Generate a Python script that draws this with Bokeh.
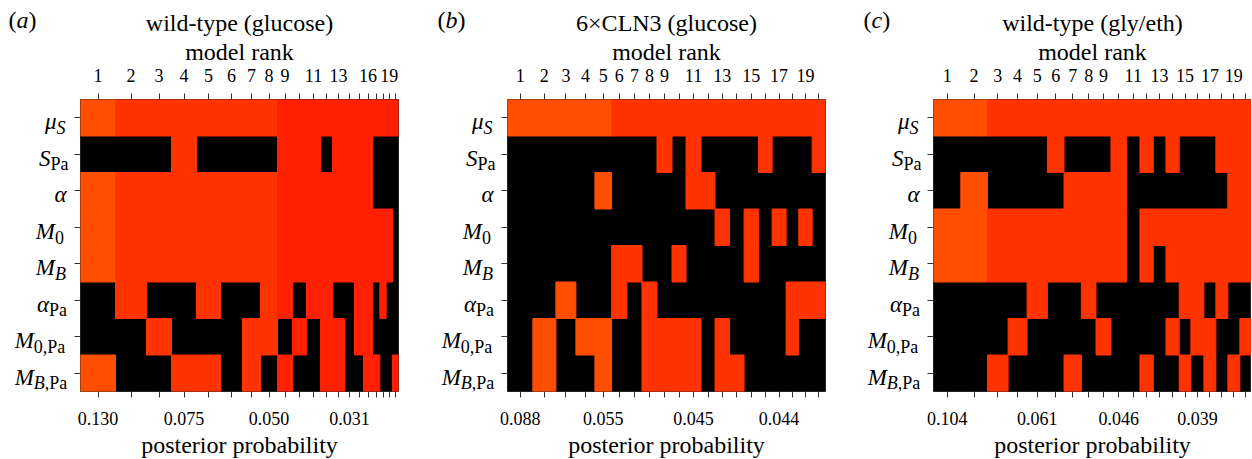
import numpy as np
from bokeh.plotting import figure
from bokeh.models import FixedTicker, LinearAxis, Range1d, ColumnDataSource, Label
from bokeh.core.properties import value
from bokeh.layouts import row
from bokeh.embed import file_html
from bokeh.resources import INLINE

FONT = "Liberation Serif"

# ---------------- data ----------------
param_main = ["μ", "S", "α", "M", "M", "α", "M", "M"]
param_sub = ["S", "Pa", "", "0", "B", "Pa", "0,Pa", "B,Pa"]

palette = ["#FF4E00", "#FF3300", "#FF2000"]

# panel (a) wild-type (glucose)
title_a = "wild-type (glucose)"
weight_a = [105, 93, 75, 75, 72, 66, 54, 51, 45, 42, 42, 36, 36, 30, 27, 27, 22, 19, 19, 18]
shade_a = [0, 1, 1, 1, 1, 1, 1, 1, 2, 2, 2, 2, 2, 2, 2, 2, 2, 2, 2, 2]
rank_lab_a = [1, 2, 3, 4, 5, 6, 7, 8, 9, 11, 13, 16, 19]
prob_rank_a = [1, 4, 8, 14]
prob_text_a = ["0.130", "0.075", "0.050", "0.031"]
cells_a = [
    [1, 1, 1, 1, 1, 1, 1, 1, 1, 1, 1, 1, 1, 1, 1, 1, 1, 1, 1, 1],
    [0, 0, 0, 1, 0, 0, 0, 0, 1, 1, 1, 0, 1, 1, 1, 1, 0, 0, 0, 0],
    [1, 1, 1, 1, 1, 1, 1, 1, 1, 1, 1, 1, 1, 1, 1, 1, 0, 0, 0, 0],
    [1, 1, 1, 1, 1, 1, 1, 1, 1, 1, 1, 1, 1, 1, 1, 1, 1, 1, 1, 0],
    [1, 1, 1, 1, 1, 1, 1, 1, 1, 1, 1, 1, 1, 1, 1, 1, 1, 1, 1, 0],
    [0, 1, 0, 0, 1, 0, 0, 1, 1, 0, 1, 1, 0, 0, 1, 1, 0, 1, 0, 0],
    [0, 0, 1, 0, 0, 0, 1, 1, 0, 1, 0, 1, 1, 0, 1, 1, 0, 0, 0, 0],
    [1, 0, 0, 1, 1, 0, 1, 0, 1, 0, 0, 1, 1, 0, 0, 1, 1, 0, 0, 1],
]

# panel (b) 6xCLN3 (glucose)
title_b = "6×CLN3 (glucose)"
weight_b = [76, 69, 60, 57, 50, 46, 45, 45, 45, 42, 45, 42, 43, 44, 43, 41, 42, 38, 40, 40]
shade_b = [0, 0, 0, 0, 0, 1, 1, 1, 1, 1, 1, 1, 1, 1, 1, 1, 1, 1, 1, 1]
rank_lab_b = [1, 2, 3, 4, 5, 6, 7, 8, 9, 11, 13, 15, 17, 19]
prob_rank_b = [1, 5, 11, 17]
prob_text_b = ["0.088", "0.055", "0.045", "0.044"]
cells_b = [
    [1, 1, 1, 1, 1, 1, 1, 1, 1, 1, 1, 1, 1, 1, 1, 1, 1, 1, 1, 1],
    [0, 0, 0, 0, 0, 0, 0, 0, 1, 0, 1, 0, 0, 0, 0, 1, 0, 0, 0, 1],
    [0, 0, 0, 0, 1, 0, 0, 0, 0, 0, 1, 1, 0, 0, 0, 0, 0, 0, 0, 0],
    [0, 0, 0, 0, 0, 0, 0, 0, 0, 0, 0, 0, 1, 0, 1, 0, 1, 0, 1, 0],
    [0, 0, 0, 0, 0, 1, 1, 0, 0, 1, 0, 0, 0, 0, 1, 0, 0, 0, 0, 0],
    [0, 0, 1, 0, 0, 1, 0, 1, 0, 0, 0, 0, 0, 0, 0, 0, 0, 1, 1, 1],
    [0, 1, 0, 1, 1, 0, 0, 1, 1, 1, 1, 0, 1, 0, 0, 0, 0, 1, 0, 0],
    [0, 1, 0, 0, 1, 0, 0, 1, 1, 1, 1, 0, 1, 1, 0, 0, 0, 0, 0, 0],
]

# panel (c) wild-type (gly/eth)
title_c = "wild-type (gly/eth)"
weight_c = [82, 80, 62, 57, 61, 50, 52, 44, 45, 47, 40, 40, 38, 40, 35, 39, 36, 36, 36, 35]
shade_c = [0, 0, 1, 1, 1, 1, 1, 1, 1, 1, 1, 1, 1, 1, 1, 1, 1, 1, 1, 1]
rank_lab_c = [1, 2, 3, 4, 5, 6, 7, 8, 9, 11, 13, 15, 17, 19]
prob_rank_c = [1, 5, 10, 16]
prob_text_c = ["0.104", "0.061", "0.046", "0.039"]
cells_c = [
    [1, 1, 1, 1, 1, 1, 1, 1, 1, 1, 1, 1, 1, 1, 1, 1, 1, 1, 1, 1],
    [0, 0, 0, 0, 0, 1, 0, 0, 0, 1, 0, 1, 0, 1, 0, 0, 0, 1, 1, 1],
    [0, 1, 0, 0, 0, 0, 1, 1, 1, 1, 0, 0, 0, 0, 0, 0, 0, 0, 1, 1],
    [1, 1, 1, 1, 1, 1, 1, 1, 1, 1, 0, 1, 1, 1, 1, 1, 1, 1, 1, 1],
    [1, 1, 1, 1, 1, 1, 1, 1, 1, 1, 0, 1, 0, 1, 1, 1, 1, 1, 1, 1],
    [0, 0, 0, 0, 1, 0, 0, 1, 0, 0, 0, 0, 0, 0, 1, 1, 0, 1, 0, 0],
    [0, 0, 0, 1, 0, 0, 0, 0, 1, 0, 0, 0, 0, 1, 0, 1, 1, 0, 0, 1],
    [0, 0, 1, 0, 0, 0, 1, 0, 0, 0, 0, 1, 0, 0, 1, 0, 1, 0, 1, 0],
]

# ---------------- layout constants ----------------
FRAME_W, FRAME_H = 318, 292
TOP, BOTTOM = 99, 68           # borders above / below the heatmap frame
ROW_PX = FRAME_H / 8.0
B = 10                          # main figure left border (y ticks)
LABEL_ANCHOR = [-24, -30, -14, -25.5, -25.5, -31.5, -46.7, -46.7]
ITALIC_SUB_W = {"S": 9.0, "B": 11.0}
PAREN_W = 8.0
LETTER_W = {"a": 12.0, "b": 12.0, "c": 10.7}


def style_axis(ax):
    ax.axis_line_color = None
    ax.major_tick_out = 6
    ax.major_tick_in = 0
    ax.major_tick_line_color = "#333333"
    ax.major_tick_line_width = 1
    ax.minor_tick_line_color = None
    ax.major_label_text_font = FONT
    ax.major_label_text_font_size = "18px"
    ax.major_label_text_color = "black"
    ax.axis_label_text_font = FONT
    ax.axis_label_text_font_size = "24px"
    ax.axis_label_text_font_style = "normal"
    ax.axis_label_text_color = "black"


def label_fig(letter, nrow, L, letter_x):
    """Narrow figure left of the heatmap holding the panel letter and row names."""
    lf = figure(frame_width=L, frame_height=FRAME_H,
                x_range=Range1d(-(L + B), -B), y_range=Range1d(0, nrow),
                x_axis_type=None, y_axis_type=None, toolbar_location=None,
                output_backend="svg", min_border_left=0, min_border_right=0,
                min_border_top=TOP, min_border_bottom=BOTTOM,
                background_fill_color="white", border_fill_color="white")
    lf.outline_line_color = None
    lf.grid.visible = False

    ycent = [nrow - 0.5 - i for i in range(nrow)]
    # main symbols
    lf.text(x=LABEL_ANCHOR[:nrow], y=[y - 4 / ROW_PX for y in ycent], text=param_main,
            text_font=value(FONT), text_font_size=value("23px"), text_font_style="italic",
            text_align="right", text_baseline="alphabetic", text_color="black")
    # subscripts
    ix, iy, it, ux, uy, ut = [], [], [], [], [], []
    for i, s in enumerate(param_sub):
        if not s:
            continue
        xo = LABEL_ANCHOR[i]
        ys = ycent[i] - 10 / ROW_PX
        if s[0] in ITALIC_SUB_W:
            ix.append(xo); iy.append(ys); it.append(s[0])
            xo += ITALIC_SUB_W[s[0]]
            s = s[1:]
        if s:
            ux.append(xo); uy.append(ys); ut.append(s)
    lf.text(x=ix, y=iy, text=it, text_font=value(FONT), text_font_size=value("18px"),
            text_font_style="italic", text_align="left", text_baseline="alphabetic",
            text_color="black")
    lf.text(x=ux, y=uy, text=ut, text_font=value(FONT), text_font_size=value("18px"),
            text_font_style="normal", text_align="left", text_baseline="alphabetic",
            text_color="black")
    # panel letter "(a)" placed in the border above the frame
    xo = letter_x
    for txt, sty, w in [("(", "normal", PAREN_W), (letter, "italic", LETTER_W[letter]),
                        (")", "normal", PAREN_W)]:
        lf.add_layout(Label(x=xo, y=nrow, y_offset=80, text=txt,
                            text_font=FONT, text_font_size="24px", text_font_style=sty,
                            text_align="left", text_baseline="middle", text_color="black"),
                      "above")
        xo += w
    return lf


def make_panel(title, weight, shade, rank_lab, prob_rank, prob_text, cells,
               border_right, title_dx):
    edges = np.concatenate([[0.0], np.cumsum(weight).astype(float)])
    centers = [float(v) for v in (edges[:-1] + edges[1:]) / 2.0]
    total = float(edges[-1])
    nrow = len(cells)

    p = figure(frame_width=FRAME_W, frame_height=FRAME_H,
               x_range=Range1d(0, total), y_range=Range1d(0, nrow),
               x_axis_location="above", output_backend="svg", toolbar_location=None,
               min_border_left=B, min_border_right=border_right,
               min_border_top=TOP, min_border_bottom=BOTTOM,
               background_fill_color="black", border_fill_color="white")
    p.grid.visible = False
    p.outline_line_color = "#222222"
    p.outline_line_width = 1

    p.title.text = title
    p.title.align = "center"
    p.title.text_font = FONT
    p.title.text_font_size = "24px"
    p.title.text_font_style = "normal"
    p.title.text_color = "black"
    p.title.standoff = 0
    p.title.offset = title_dx

    # present parameters: contiguous runs of same colour in a row merged into one quad
    left, right, bottom, top, color = [], [], [], [], []
    for i, rvals in enumerate(cells):
        j = 0
        n = len(rvals)
        while j < n:
            if rvals[j]:
                k = j
                while k + 1 < n and rvals[k + 1] and shade[k + 1] == shade[j]:
                    k += 1
                left.append(edges[j]); right.append(edges[k + 1])
                bottom.append(nrow - 1 - i); top.append(nrow - i)
                color.append(palette[shade[j]])
                j = k + 1
            else:
                j += 1
    src = ColumnDataSource(dict(left=left, right=right, bottom=bottom, top=top, color=color))
    p.quad(left="left", right="right", bottom="bottom", top="top", source=src,
           fill_color="color", line_color="color", line_width=1)

    # top axis: model rank
    top_ax = p.xaxis[0]
    top_ax.ticker = FixedTicker(ticks=centers)
    top_ax.major_label_overrides = {c: (str(k + 1) if (k + 1) in rank_lab else "")
                                    for k, c in enumerate(centers)}
    top_ax.axis_label = "model rank"
    style_axis(top_ax)
    top_ax.major_label_standoff = 12
    top_ax.axis_label_standoff = 1

    # bottom axis: posterior probability
    bot_ax = LinearAxis(ticker=FixedTicker(ticks=centers))
    ov = {c: "" for c in centers}
    for r, t in zip(prob_rank, prob_text):
        ov[centers[r - 1]] = t
    bot_ax.major_label_overrides = ov
    bot_ax.axis_label = "posterior probability"
    style_axis(bot_ax)
    bot_ax.major_label_standoff = 14
    bot_ax.axis_label_standoff = 4
    p.add_layout(bot_ax, "below")

    # left axis: ticks only (names are drawn in the label figure)
    yax = p.yaxis[0]
    ycent = [nrow - 0.5 - i for i in range(nrow)]
    yax.ticker = FixedTicker(ticks=ycent)
    yax.major_label_overrides = {y: "" for y in ycent}
    style_axis(yax)
    yax.major_label_standoff = 0
    return p


lfa = label_fig("a", 8, 70, -72)
pa = make_panel(title_a, weight_a, shade_a, rank_lab_a, prob_rank_a, prob_text_a, cells_a, 37, 0)
lfb = label_fig("b", 8, 62, -70)
pb = make_panel(title_b, weight_b, shade_b, rank_lab_b, prob_rank_b, prob_text_b, cells_b, 36, -6)
lfc = label_fig("c", 8, 62, -70)
pc = make_panel(title_c, weight_c, shade_c, rank_lab_c, prob_rank_c, prob_text_c, cells_c, 0, -4)

layout = row(lfa, pa, lfb, pb, lfc, pc)
open("out.html", "w").write(file_html(layout, INLINE))
